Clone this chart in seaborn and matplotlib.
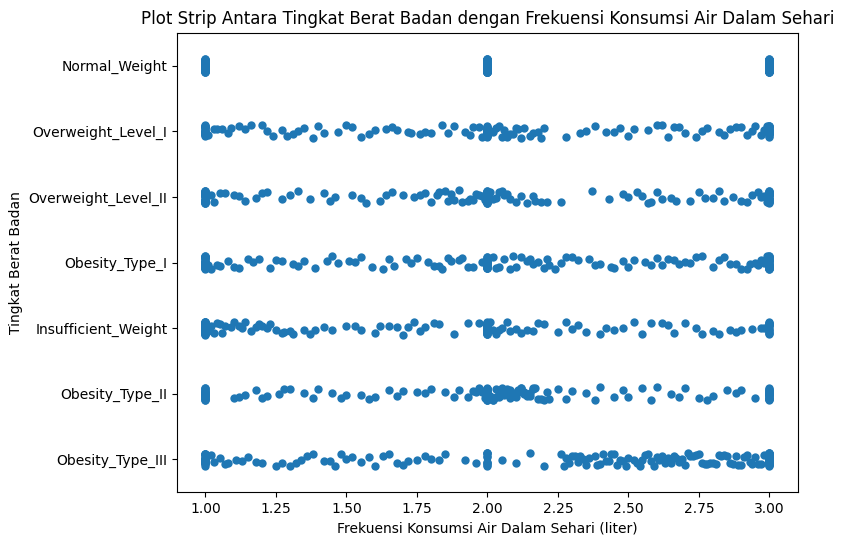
import matplotlib
matplotlib.use("Agg")
import pandas as pd
import seaborn as sns
import matplotlib.pyplot as plt

categories = ["Normal_Weight", "Overweight_Level_I", "Overweight_Level_II",
              "Obesity_Type_I", "Insufficient_Weight", "Obesity_Type_II",
              "Obesity_Type_III"]

# estimated CH2O values (exact 1/2/3 values given with counts)
normal_weight = [1.0] * 60 + [2.0] * 150 + [3.0] * 80

overweight_1 = [1.0] * 20 + [2.0] * 25 + [3.0] * 20 + [
    1.03, 1.06, 1.09, 1.12, 1.16, 1.2, 1.24, 1.27, 1.31, 1.35, 1.38, 1.42,
    1.47, 1.52, 1.55, 1.6, 1.64, 1.68, 1.72, 1.76, 1.8, 1.84, 1.88, 1.92,
    1.95, 1.98, 2.02, 2.05, 2.08, 2.1, 2.13, 2.16, 2.2, 2.28, 2.33, 2.38,
    2.42, 2.47, 2.52, 2.57, 2.62, 2.66, 2.7, 2.74, 2.78, 2.82, 2.86, 2.9,
    2.94, 2.97, 1.29, 1.73, 2.03, 2.07, 2.11, 2.19, 2.45, 2.64, 2.92, 2.99,
    1.01, 1.04, 1.08, 1.14, 1.22, 1.33, 1.4, 1.5, 1.58, 1.66, 1.78, 1.86,
    1.94, 2.01, 2.04, 2.06, 2.09, 2.12, 2.15, 2.18, 2.35, 2.5, 2.6, 2.68,
    2.76, 2.84, 2.88, 2.95, 2.98, 1.97]

overweight_2 = [1.0] * 25 + [2.0] * 30 + [3.0] * 25 + [
    1.03, 1.07, 1.1, 1.14, 1.18, 1.22, 1.27, 1.33, 1.37, 1.42, 1.46, 1.52,
    1.57, 1.62, 1.66, 1.7, 1.74, 1.78, 1.82, 1.86, 1.9, 1.93, 1.96, 1.98,
    2.02, 2.04, 2.07, 2.1, 2.14, 2.17, 2.21, 2.26, 2.37, 2.43, 2.48, 2.53,
    2.57, 2.62, 2.67, 2.72, 2.77, 2.82, 2.87, 2.92, 2.96, 2.98, 1.8, 1.85,
    1.88, 1.95, 2.01, 2.03, 2.06, 2.16, 2.55, 2.6, 2.84, 2.94,
    1.02, 1.05, 1.12, 1.2, 1.3, 1.44, 1.55, 1.64, 1.76, 1.83, 1.87, 1.91,
    1.94, 1.97, 1.99, 2.01, 2.05, 2.08, 2.12, 2.19, 2.5, 2.58, 2.65, 2.75,
    2.8, 2.9, 2.97, 2.99]

obesity_1 = [1.0] * 30 + [2.0] * 25 + [3.0] * 30 + [
    1.02, 1.05, 1.08, 1.12, 1.15, 1.19, 1.23, 1.27, 1.31, 1.35, 1.39, 1.43,
    1.47, 1.51, 1.55, 1.59, 1.63, 1.67, 1.71, 1.75, 1.79, 1.83, 1.87, 1.91,
    1.95, 1.98, 2.03, 2.06, 2.09, 2.12, 2.15, 2.18, 2.21, 2.24, 2.28, 2.32,
    2.36, 2.4, 2.44, 2.48, 2.52, 2.56, 2.6, 2.64, 2.68, 2.72, 2.76, 2.8,
    2.84, 2.88, 2.92, 2.95, 2.97, 2.99, 2.1, 2.14, 2.2, 2.45, 2.62, 2.7,
    2.9, 2.93, 1.84, 1.9, 2.02, 2.26,
    1.01, 1.04, 1.1, 1.17, 1.25, 1.33, 1.45, 1.53, 1.65, 1.73, 1.81, 1.86,
    1.93, 2.04, 2.08, 2.16, 2.22, 2.3, 2.38, 2.5, 2.58, 2.66, 2.74, 2.82,
    2.86, 2.96, 2.98]

insufficient = [1.0] * 45 + [2.0] * 30 + [3.0] * 15 + [
    1.02, 1.04, 1.07, 1.1, 1.13, 1.16, 1.19, 1.22, 1.25, 1.28, 1.31, 1.35,
    1.39, 1.45, 1.5, 1.55, 1.6, 1.65, 1.7, 1.74, 1.78, 1.83, 1.88, 1.93,
    1.97, 2.02, 2.05, 2.08, 2.12, 2.16, 2.2, 2.25, 2.3, 2.35, 2.4, 2.45,
    2.52, 2.58, 2.64, 2.7, 2.76, 2.82, 2.88, 2.94, 2.97, 1.05, 1.12, 1.2,
    1.27, 1.62, 1.72, 2.03, 2.1, 2.28, 2.48, 2.66, 2.86,
    1.01, 1.03, 1.06, 1.09, 1.14, 1.18, 1.23, 1.3, 1.37, 1.42, 1.53, 1.68,
    1.76, 1.81, 2.01, 2.04, 2.07, 2.14, 2.18, 2.32, 2.42, 2.55, 2.62, 2.74,
    2.8, 2.9, 2.98]

obesity_2 = [1.0] * 20 + [2.0] * 60 + [3.0] * 20 + [
    1.1, 1.14, 1.18, 1.22, 1.26, 1.3, 1.35, 1.4, 1.45, 1.5, 1.55, 1.6,
    1.65, 1.7, 1.75, 1.8, 1.85, 1.9, 1.93, 1.96, 1.98, 2.01, 2.02, 2.03,
    2.04, 2.05, 2.06, 2.07, 2.08, 2.09, 2.1, 2.11, 2.12, 2.13, 2.14, 2.15,
    2.16, 2.17, 2.18, 2.2, 2.22, 2.25, 2.3, 2.35, 2.4, 2.45, 2.5, 2.55,
    2.6, 2.65, 2.7, 2.75, 2.8, 2.85, 2.9, 2.95, 2.01, 2.03, 2.05, 2.07,
    2.09, 2.11, 2.13, 2.15, 1.97, 1.99, 2.02, 2.06, 2.1, 2.14,
    1.12, 1.2, 1.28, 1.38, 1.48, 1.58, 1.68, 1.78, 1.88, 1.95, 2.04, 2.08,
    2.12, 2.16, 2.19, 2.21, 2.28, 2.38, 2.48, 2.58, 2.68, 2.78, 2.88]

obesity_3 = [1.0] * 20 + [2.0] * 10 + [3.0] * 40 + [
    1.02, 1.05, 1.08, 1.11, 1.15, 1.2, 1.25, 1.3, 1.34, 1.38, 1.42, 1.46,
    1.5, 1.55, 1.6, 1.65, 1.7, 1.75, 1.8, 1.85, 1.92, 1.96, 2.05, 2.1,
    2.15, 2.2, 2.26, 2.28, 2.3, 2.32, 2.34, 2.36, 2.38, 2.4, 2.42, 2.44,
    2.46, 2.48, 2.5, 2.52, 2.54, 2.56, 2.58, 2.6, 2.62, 2.64, 2.66, 2.68,
    2.7, 2.72, 2.74, 2.76, 2.78, 2.8, 2.82, 2.84, 2.86, 2.88, 2.9, 2.92,
    2.94, 2.96, 2.98, 2.29, 2.35, 2.41, 2.47, 2.53, 2.59, 2.65, 2.71, 2.77,
    2.83, 2.89, 2.95, 2.31, 2.45, 2.61, 2.75, 2.87, 1.32, 1.48, 1.68, 1.78,
    1.03, 1.07, 1.13, 1.18, 1.27, 1.36, 1.44, 1.52, 1.58, 1.63, 1.72, 1.83,
    2.27, 2.33, 2.39, 2.43, 2.49, 2.55, 2.57, 2.63, 2.67, 2.69, 2.73, 2.79,
    2.81, 2.85, 2.91, 2.93, 2.97, 2.99]

series = [normal_weight, overweight_1, overweight_2, obesity_1,
          insufficient, obesity_2, obesity_3]

rows = []
for cat, vals in zip(categories, series):
    for v in vals:
        rows.append({"CH2O": v, "NObeyesdad": cat})
df = pd.DataFrame(rows)

fig, ax = plt.subplots(figsize=(8.44, 5.47), dpi=100)
sns.stripplot(data=df, x="CH2O", y="NObeyesdad", order=categories,
              color="#1f77b4", jitter=0.1, size=6, ax=ax)
ax.set_title("Plot Strip Antara Tingkat Berat Badan dengan Frekuensi Konsumsi Air Dalam Sehari")
ax.set_xlabel("Frekuensi Konsumsi Air Dalam Sehari (liter)")
ax.set_ylabel("Tingkat Berat Badan")
plt.subplots_adjust(left=0.21, right=0.945, top=0.94, bottom=0.1)
fig.savefig("out.png")
